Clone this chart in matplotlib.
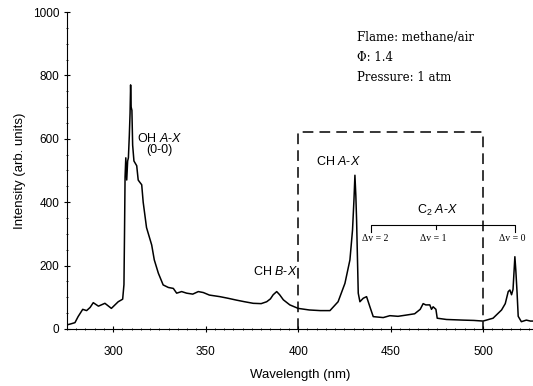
import matplotlib
matplotlib.use("Agg")
import matplotlib.pyplot as plt
from matplotlib.ticker import MultipleLocator

plt.rcParams['font.family'] = ['Liberation Sans', 'DejaVu Sans']
plt.rcParams['mathtext.fontset'] = 'custom'
plt.rcParams['mathtext.rm'] = 'Liberation Sans'
plt.rcParams['mathtext.it'] = 'Liberation Sans:italic'

wavelength = [275, 277, 279.3, 281, 283.5, 285.6, 287.5, 289.2, 292, 295.5, 299, 302.7, 305.1,
              305.8, 306.1, 306.4, 306.8, 307.3, 307.8, 308.2, 308.7, 309.1, 309.4, 309.7, 310.1,
              310.5, 311.2, 312.7, 313.5, 314.1, 315.4, 316.2, 318, 320.8, 322.2, 324.4, 327,
              329.8, 332.5, 334.3, 337, 339.7, 343, 346, 348.7, 352, 357.7, 362, 366.7, 371,
              375.7, 380, 383, 385, 386.5, 388.4, 390, 392, 395.5, 400, 406, 412, 417.2, 421.6,
              425.3, 428, 429.4, 430.2, 430.7, 431.2, 431.6, 432.5, 433.4, 435.2, 437, 438.8,
              440.6, 446, 449.6, 454, 458.6, 463, 466, 467.6, 469, 471.2, 472.1, 473, 474.5,
              475.2, 480.2, 489.2, 495, 500, 505.4, 510, 512, 513.6, 514.5, 515.4, 516.2, 517.2,
              517.7, 518.4, 519, 520.7, 523.4, 525.6, 527]
intensity = [13, 16, 20, 39, 62, 58, 68, 83, 72, 81, 65, 86, 94,
             140, 300, 480, 540, 470, 530, 540, 610, 680, 770, 700, 690,
             580, 530, 515, 470, 465, 455, 400, 320, 265, 218, 176, 139,
             131, 128, 113, 118, 113, 110, 118, 115, 107, 102, 97, 91, 86,
             81, 80, 86, 95, 108, 118, 108, 92, 76, 65, 60, 58, 58, 86,
             144, 218, 312, 410, 485, 420, 344, 113, 86, 97, 102, 70,
             39, 36, 42, 40, 44, 48, 62, 80, 76, 76, 62, 70, 62,
             34, 30, 28, 27, 25, 34, 60, 80, 118, 123, 108, 125, 228,
             186, 113, 40, 23, 28, 25, 25]

box_x = [400, 500]
box_top = 622
bracket_ends = [439.2, 517]
bracket_mid = 474.8
bracket_y = 328
dv_labels = ["Δv = 2", "Δv = 1", "Δv = 0"]
dv_x = [441.5, 472.8, 515.8]

fig = plt.figure(figsize=(5.33, 3.86), dpi=100)
ax = fig.add_axes([0.1257, 0.1477, 0.8743, 0.8212])
ax.plot(wavelength, intensity, color='black', lw=1.1)

ax.set_xlim(275, 527)
ax.set_ylim(0, 1000)
ax.set_xticks([300, 350, 400, 450, 500])
ax.set_yticks([0, 200, 400, 600, 800, 1000])
ax.xaxis.set_minor_locator(MultipleLocator(5))
ax.yaxis.set_minor_locator(MultipleLocator(50))
ax.tick_params(axis='both', which='major', labelsize=8.5, length=4, width=0.8, direction='inout')
ax.tick_params(axis='both', which='minor', length=2, width=0.6, direction='inout')
ax.tick_params(axis='x', pad=10)
for s in ['top', 'right']:
    ax.spines[s].set_visible(False)
ax.set_xlabel('Wavelength (nm)', fontsize=9.5, labelpad=8)
ax.set_ylabel('Intensity (arb. units)', fontsize=9.5, labelpad=5)

# dashed box
ax.plot([box_x[0], box_x[0], box_x[1], box_x[1]], [0, box_top, box_top, 0],
        color='black', lw=1.1, ls=(0, (7, 4)))

# C2 bracket
ax.plot([bracket_ends[0], bracket_ends[0], bracket_ends[1], bracket_ends[1]],
        [bracket_y - 22, bracket_y, bracket_y, bracket_y - 22], color='black', lw=0.8)
ax.plot([bracket_mid, bracket_mid], [bracket_y, bracket_y - 12], color='black', lw=0.8)
for lab, x in zip(dv_labels, dv_x):
    ax.text(x, 287, lab, fontsize=7, family='Liberation Serif', ha='center', va='center')

ax.text(475.5, 375, r'C$_2$ $\it{A}$-$\it{X}$', fontsize=9, ha='center', va='center')
ax.text(421.5, 527, r'CH $\it{A}$-$\it{X}$', fontsize=9, ha='center', va='center')
ax.text(325, 602, r'OH $\it{A}$-$\it{X}$', fontsize=9, ha='center', va='center')
ax.text(325, 565, '(0-0)', fontsize=9, ha='center', va='center')
ax.text(387.5, 180, r'CH $\it{B}$-$\it{X}$', fontsize=9, ha='center', va='center')

ax.text(431.8, 921, 'Flame: methane/air', fontsize=8.5, family='DejaVu Serif', va='center')
ax.text(431.8, 855, 'Φ: 1.4', fontsize=8.5, family='DejaVu Serif', va='center')
ax.text(431.8, 792, 'Pressure: 1 atm', fontsize=8.5, family='DejaVu Serif', va='center')

fig.savefig('out.png', dpi=100)
